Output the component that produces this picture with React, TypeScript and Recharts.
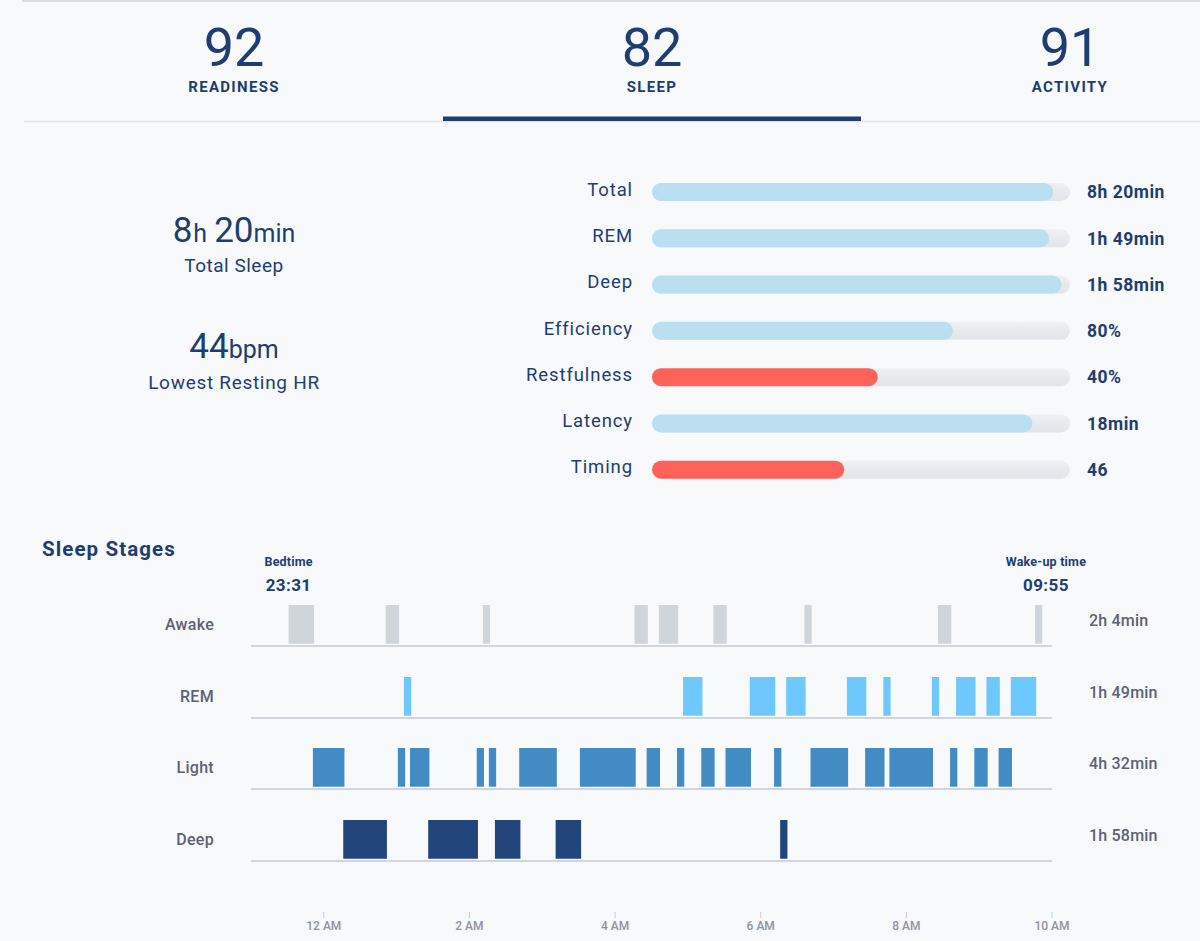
import React from 'react';
import { BarChart, Bar, XAxis, YAxis, ReferenceLine, Cell } from 'recharts';

// ---------- data ----------
const scoreLabels = ['READINESS', 'SLEEP', 'ACTIVITY'];
const scoreValues = [92, 82, 91];
const activeTab = 1;

const contributorLabels = ['Total', 'REM', 'Deep', 'Efficiency', 'Restfulness', 'Latency', 'Timing'];
const contributorScores = [96, 95, 98, 72, 54, 91, 46];
const contributorValues = ['8h 20min', '1h 49min', '1h 58min', '80%', '40%', '18min', '46'];

const stageNames = ['Awake', 'REM', 'Light', 'Deep'];
const stageTotals = ['2h 4min', '1h 49min', '4h 32min', '1h 58min'];

const awakeSegments: [string, string][] = [
  ['23:31', '23:52'], ['00:51', '01:02'], ['02:11', '02:17'], ['04:16', '04:27'], ['04:36', '04:52'],
  ['05:21', '05:32'], ['06:36', '06:42'], ['08:26', '08:37'], ['09:46', '09:52'],
];
const remSegments: [string, string][] = [
  ['01:06', '01:12'], ['04:56', '05:12'], ['05:51', '06:12'], ['06:21', '06:37'], ['07:11', '07:27'],
  ['07:41', '07:47'], ['08:21', '08:27'], ['08:41', '08:57'], ['09:06', '09:17'], ['09:26', '09:47'],
];
const lightSegments: [string, string][] = [
  ['23:51', '00:17'], ['01:01', '01:07'], ['01:11', '01:27'], ['02:06', '02:12'], ['02:16', '02:22'],
  ['02:41', '03:12'], ['03:31', '04:17'], ['04:26', '04:37'], ['04:51', '04:57'], ['05:11', '05:22'],
  ['05:31', '05:52'], ['06:11', '06:17'], ['06:41', '07:12'], ['07:26', '07:42'], ['07:46', '08:22'],
  ['08:36', '08:42'], ['08:56', '09:07'], ['09:16', '09:27'],
];
const deepSegments: [string, string][] = [
  ['00:16', '00:52'], ['01:26', '02:07'], ['02:21', '02:42'], ['03:11', '03:32'], ['06:16', '06:22'],
];

const bedtime = '23:31';
const wakeTime = '09:55';
const axisStart = '23:00';
const axisEnd = '10:00';
const hourTicks = ['00:00', '02:00', '04:00', '06:00', '08:00', '10:00'];
const hourTickLabels = ['12 AM', '2 AM', '4 AM', '6 AM', '8 AM', '10 AM'];

// ---------- helpers ----------
const toMin = (clock: string) => {
  const [h, m] = clock.split(':').map(Number);
  return (h * 60 + m - 23 * 60 + 1440) % 1440;
};

const domain: [number, number] = [toMin(axisStart), toMin(axisEnd)];

function buildRow(name: string, total: string, segs: [string, string][]) {
  const row: Record<string, any> = { stage: name, total };
  let cursor = domain[0];
  segs.forEach(([a, b], i) => {
    const s = toMin(a);
    const e = toMin(b);
    row['g' + i] = Math.max(0, s - cursor);
    row['s' + i] = e - Math.max(s, cursor);
    cursor = e;
  });
  return row;
}

const navy = '#1e3d70';
const grayText = '#5b6273';
const FONT = "Roboto, 'Liberation Sans', Arial, sans-serif";
const stageColors = ['#d0d4db', '#6ec7fd', '#438cc3', '#22467b'];
const stageSegments = [awakeSegments, remSegments, lightSegments, deepSegments];

const contribData = contributorLabels.map((label, i) => ({
  label,
  score: contributorScores[i],
  value: contributorValues[i],
}));

// ---------- components ----------
const ContribLabel = (props: any) => (
  <text x={props.x} y={props.y - 3} dy="0.355em" textAnchor="end" fontSize={18.5} letterSpacing={0.9}
    fill={navy} fontFamily={FONT}>{props.payload.value}</text>
);
const ContribValue = (props: any) => (
  <text x={props.x} y={props.y} dy="0.355em" textAnchor="start" fontSize={17.5} fontWeight={700} letterSpacing={0.5}
    fill={navy} fontFamily={FONT}>{props.payload.value}</text>
);
const StageLabel = (props: any) => (
  <text x={props.x} y={props.y} dy="0.355em" textAnchor="end" fontSize={16} fontWeight={500} letterSpacing={0.3}
    fill={grayText} fontFamily={FONT}>{props.payload.value}</text>
);
const StageTotal = (props: any) => (
  <text x={props.x} y={props.y - 4} dy="0.355em" textAnchor="start" fontSize={16} fontWeight={500} letterSpacing={0.2}
    fill={grayText} fontFamily={FONT}>{props.payload.value}</text>
);

const markerLabel = (title: string, time: string) => (props: any) => {
  const vb = props.viewBox || {};
  const x = vb.x;
  const y = vb.y;
  return (
    <g>
      <text x={x} y={y - 37} textAnchor="middle" fontSize={12.5} fontWeight={700} letterSpacing={0.2} fill={navy} fontFamily={FONT}>{title}</text>
      <text x={x} y={y - 12} textAnchor="middle" fontSize={17} fontWeight={700} letterSpacing={0.4} fill={navy} fontFamily={FONT}>{time}</text>
    </g>
  );
};

function StageRow({ index }: { index: number }) {
  const segs = stageSegments[index];
  const row = buildRow(stageNames[index], stageTotals[index], segs);
  const showMarkers = index === 0;
  const marginTop = showMarkers ? 60 : 0;
  const plotTop = 603 + index * 71.6;
  return (
    <div style={{ position: 'absolute', left: 0, top: plotTop - marginTop }}>
      <BarChart width={1200} height={46 + marginTop} data={[row]} layout="vertical"
        margin={{ top: marginTop, right: 0, bottom: 0, left: 0 }} barCategoryGap={0}>
        <XAxis type="number" domain={domain} allowDataOverflow tick={false} tickLine={false}
          axisLine={{ stroke: '#d2d6dc', strokeWidth: 2 }} height={3} />
        <YAxis type="category" dataKey="stage" width={251} axisLine={false} tickLine={false}
          tickSize={0} tickMargin={37} tick={<StageLabel />} />
        <YAxis yAxisId="right" orientation="right" type="category" dataKey="total" width={148}
          axisLine={false} tickLine={false} tickSize={0} tickMargin={37} tick={<StageTotal />} />
        {segs.map((_, i) => [
          <Bar key={'g' + i} dataKey={'g' + i} stackId="s" fill="transparent" barSize={43} isAnimationActive={false} />,
          <Bar key={'s' + i} dataKey={'s' + i} stackId="s" fill={stageColors[index]} barSize={43} isAnimationActive={false} />,
        ])}
        {showMarkers && (
          <ReferenceLine x={toMin(bedtime)} stroke="none" label={markerLabel('Bedtime', bedtime)} />
        )}
        {showMarkers && (
          <ReferenceLine x={toMin(wakeTime)} stroke="none" label={markerLabel('Wake-up time', wakeTime)} />
        )}
      </BarChart>
    </div>
  );
}

function TimeAxis() {
  const row = buildRow('Deep', '', deepSegments);
  const tickVals = hourTicks.map(toMin);
  return (
    <div style={{ position: 'absolute', left: 0, top: 900 }}>
      <BarChart width={1200} height={41} data={[row]} layout="vertical"
        margin={{ top: 0, right: 148, bottom: 0, left: 251 }}>
        <XAxis type="number" domain={domain} allowDataOverflow ticks={tickVals} interval={0}
          axisLine={false} tickLine={{ stroke: '#c9cdd4' }} tickSize={6} tickMargin={3} height={29}
          tickFormatter={(v: number) => hourTickLabels[tickVals.indexOf(v)]}
          tick={{ fill: '#8e94a0', fontSize: 12, fontWeight: 500, fontFamily: FONT }} />
        <YAxis type="category" dataKey="stage" hide />
        <Bar dataKey="g0" fill="transparent" isAnimationActive={false} />
      </BarChart>
    </div>
  );
}

export default function App() {
  return (
    <div style={{ position: 'absolute', left: 0, top: 0, width: 1200, height: 941, background: '#f8f9fb', overflow: 'hidden', fontFamily: FONT }}>
      <svg width={1200} height={941} style={{ position: 'absolute', left: 0, top: 0 }}>
        <line x1={22} y1={1} x2={1200} y2={1} stroke="#d9dce1" strokeWidth={2} />
        <line x1={24} y1={121.5} x2={1200} y2={121.5} stroke="#dfe2e6" strokeWidth={1.5} />
        <rect x={26 + activeTab * 418 - 1} y={116.5} width={418} height={4.5} fill={navy} />
        {scoreLabels.map((lab, i) => (
          <g key={lab}>
            <text x={234 + i * 418} y={66} textAnchor="middle" fontSize={54} fill={navy} fontFamily={FONT}>{scoreValues[i]}</text>
            <text x={234 + i * 418} y={91.5} textAnchor="middle" fontSize={15} fontWeight={700} letterSpacing={1.3} fill={navy} fontFamily={FONT}>{lab}</text>
          </g>
        ))}
        <text x={234} y={242} textAnchor="middle" fill={navy} fontFamily={FONT}>
          <tspan fontSize={35}>8</tspan>
          <tspan fontSize={25} dx={1}>h</tspan>
          <tspan fontSize={35} dx={7}>20</tspan>
          <tspan fontSize={25}>min</tspan>
        </text>
        <text x={234} y={271.5} textAnchor="middle" fontSize={19} letterSpacing={0.5} fill={navy} fontFamily={FONT}>Total Sleep</text>
        <text x={234} y={358} textAnchor="middle" fill={navy} fontFamily={FONT}>
          <tspan fontSize={35}>44</tspan>
          <tspan fontSize={25}>bpm</tspan>
        </text>
        <text x={234} y={389} textAnchor="middle" fontSize={19} letterSpacing={0.7} fill={navy} fontFamily={FONT}>Lowest Resting HR</text>
        <text x={42} y={556} fontSize={20.5} fontWeight={700} letterSpacing={1.1} fill={navy} fontFamily={FONT}>Sleep Stages</text>
      </svg>

      <div style={{ position: 'absolute', left: 400, top: 150 }}>
        <BarChart width={800} height={360} data={contribData} layout="vertical"
          margin={{ top: 19, right: 0, bottom: 17, left: 0 }}>
          <defs>
            <linearGradient id="trackGrad" x1="0" y1="0" x2="0" y2="1">
              <stop offset="0" stopColor="#eef0f3" />
              <stop offset="1" stopColor="#e1e4e8" />
            </linearGradient>
          </defs>
          <XAxis type="number" domain={[0, 100]} hide />
          <YAxis type="category" dataKey="label" width={252} axisLine={false} tickLine={false}
            tickSize={0} tickMargin={19} tick={<ContribLabel />} />
          <YAxis yAxisId="right" orientation="right" type="category" dataKey="value" width={130}
            axisLine={false} tickLine={false} tickSize={0} tickMargin={17} tick={<ContribValue />} />
          <Bar dataKey="score" barSize={18} radius={9} background={{ fill: 'url(#trackGrad)', radius: 9 }} isAnimationActive={false}>
            {contribData.map((d, i) => (
              <Cell key={i} fill={d.score < 60 ? '#ff6258' : '#b9dff0'} />
            ))}
          </Bar>
        </BarChart>
      </div>

      {stageNames.map((_, i) => <StageRow key={i} index={i} />)}
      <TimeAxis />
    </div>
  );
}
